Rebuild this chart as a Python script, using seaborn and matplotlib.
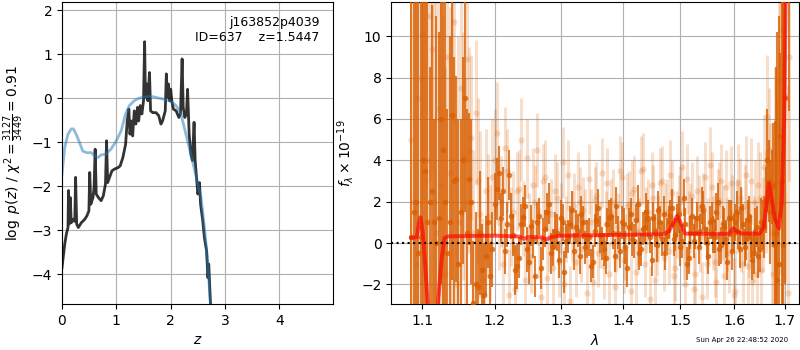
import matplotlib
matplotlib.use('Agg')
import numpy as np
import pandas as pd
import matplotlib.pyplot as plt
import seaborn as sns
from matplotlib.ticker import FixedLocator, NullLocator, FixedFormatter

# ---------------- data: redshift panel ----------------
z_pz = [0.00, 0.05, 0.08, 0.11, 0.12, 0.135, 0.153, 0.17, 0.21, 0.235, 0.25, 0.27, 0.30,
        0.355, 0.42, 0.46, 0.495, 0.51, 0.53, 0.57, 0.59, 0.61, 0.63, 0.67, 0.72, 0.76,
        0.80, 0.82, 0.84, 0.875, 0.92, 0.97, 1.03, 1.07, 1.12, 1.17, 1.20, 1.23, 1.25,
        1.28, 1.30, 1.33, 1.36, 1.39, 1.41, 1.44, 1.47, 1.50, 1.52, 1.535, 1.56, 1.58,
        1.61, 1.63, 1.67, 1.73, 1.78, 1.82, 1.85, 1.90, 1.92, 1.94, 1.96, 1.98, 2.00,
        2.02, 2.05, 2.10, 2.15, 2.18, 2.21, 2.23, 2.26, 2.29, 2.31, 2.34, 2.37, 2.40,
        2.43, 2.45, 2.48, 2.50, 2.53, 2.55, 2.59, 2.62, 2.66, 2.685, 2.70, 2.73, 2.75, 2.80]
logp_pz = [-3.85, -3.32, -3.09, -2.94, -2.10, -2.86, -2.26, -2.83, -2.75, -2.80, -1.80, -2.86, -2.94,
           -2.83, -2.75, -2.67, -2.56, -1.69, -2.41, -2.26, -2.03, -1.16, -2.18, -2.26, -2.33, -2.22,
           -1.95, -0.97, -1.92, -1.80, -1.65, -1.61, -1.58, -1.54, -1.35, -1.05, -0.52, -0.25, -0.82,
           -0.52, -0.86, -0.29, -0.59, -0.21, -0.52, -0.17, -0.36, -0.06, 1.28, 0.02, 0.32, -0.06,
           0.58, -0.29, -0.33, -0.33, -0.40, -0.59, -0.52, -0.29, 0.55, 0.02, 0.32, -0.06, 0.20,
           -0.06, -0.25, -0.29, -0.44, -0.36, 0.89, -0.21, -0.44, -0.36, 0.20, -0.82, -1.27, -1.42,
           -0.55, -1.42, -1.88, -2.18, -1.92, -2.41, -2.79, -3.17, -3.47, -4.08, -3.77, -4.60, -5.06, -5.60]

z_prior = [0.00, 0.05, 0.11, 0.17, 0.21, 0.26, 0.32, 0.38, 0.45, 0.54, 0.60, 0.66, 0.72,
           0.81, 0.90, 1.00, 1.09, 1.17, 1.24, 1.33, 1.42, 1.55, 1.64, 1.73, 1.85, 1.98,
           2.10, 2.19, 2.25, 2.31, 2.37, 2.43, 2.50, 2.56, 2.62, 2.68, 2.73, 2.78]
logp_prior = [-1.73, -1.12, -0.82, -0.70, -0.70, -0.82, -1.00, -1.20, -1.24, -1.24, -1.31, -1.35, -1.29,
              -1.27, -1.16, -0.97, -0.74, -0.36, -0.17, -0.06, 0.00, 0.03, 0.04, 0.015, -0.02, -0.06,
              -0.17, -0.36, -0.67, -0.97, -1.27, -1.58, -1.95, -2.27, -2.94, -3.70, -4.68, -5.30]

# ---------------- data: spectrum panel ----------------
# wavelength grid A (microns)
lam_a = [1.086, 1.092, 1.098, 1.104, 1.110, 1.116, 1.122, 1.128, 1.134, 1.140, 1.146,
         1.152, 1.158, 1.164, 1.170, 1.176, 1.182, 1.188, 1.194, 1.200, 1.206,
         1.212, 1.218, 1.224, 1.230, 1.236, 1.242, 1.248, 1.254, 1.260, 1.266, 1.272,
         1.278, 1.284, 1.290, 1.296, 1.302, 1.308, 1.314, 1.320, 1.326, 1.332, 1.338,
         1.344, 1.350, 1.356, 1.362, 1.368, 1.374, 1.380, 1.386, 1.392, 1.398, 1.404,
         1.410, 1.416, 1.422, 1.428, 1.434, 1.440, 1.446, 1.452, 1.458, 1.464, 1.470,
         1.476, 1.482, 1.488, 1.494, 1.500, 1.506, 1.512, 1.518, 1.524, 1.530, 1.536,
         1.542, 1.548, 1.554, 1.560, 1.566, 1.572, 1.578, 1.584, 1.590, 1.596, 1.602,
         1.608, 1.614, 1.620, 1.626, 1.632, 1.638, 1.644, 1.650, 1.656,
         1.662, 1.668, 1.674, 1.680, 1.684, 1.690, 1.696, 1.708]
# wavelength grid B (microns)
lam_b = [1.089, 1.095, 1.101, 1.107, 1.113, 1.119, 1.125, 1.131, 1.137, 1.143,
         1.149, 1.155, 1.161, 1.167, 1.173, 1.179, 1.185, 1.191, 1.197, 1.203,
         1.209, 1.215, 1.221, 1.227, 1.233, 1.239, 1.245, 1.251, 1.257, 1.263,
         1.269, 1.275, 1.281, 1.287, 1.293, 1.299, 1.305, 1.311, 1.317, 1.323,
         1.329, 1.335, 1.341, 1.347, 1.353, 1.359, 1.365, 1.371, 1.377, 1.383,
         1.389, 1.395, 1.401, 1.407, 1.413, 1.419, 1.425, 1.431, 1.437, 1.443,
         1.449, 1.455, 1.461, 1.467, 1.473, 1.479, 1.485, 1.491, 1.497, 1.503,
         1.509, 1.515, 1.521, 1.527, 1.533, 1.539, 1.545, 1.551, 1.557, 1.563,
         1.569, 1.575, 1.581, 1.587, 1.593, 1.599, 1.605, 1.611, 1.617, 1.623,
         1.629, 1.635, 1.641, 1.647, 1.653, 1.659, 1.665, 1.671, 1.677, 1.683,
         1.689, 1.695, 1.701, 1.707]

# dark (strong) points on grid A
flux_dark_a = [0.3, 2.0, 0.3, 3.5, 2.0, 1.0, 1.2, 4.5, -0.5, 6.2, 3.1,
               1.5, 7.0, 3.1, -2.9, -2.1, -1.3, -0.6, -1.6, 1.9, 3.4,
               2.5, 0.9, 1.3, -1.3, -0.7, 1.25, -0.3, 0.85, -1.6, 1.3, 0.2,
               1.5, -0.5, 0.6, -0.8, 1.0, 0.1, 0.9, -0.4, 0.6, 1.4, -0.2,
               0.3, -0.9, 1.1, 0.4, -0.3, 0.9, 1.3, -0.6, 0.5, 1.0, -0.2,
               0.8, 0.2, 1.1, -0.5, 0.7, 1.5, 0.3, 1.2, -0.1, 1.0, 1.4,
               0.4, 1.3, 0.2, 1.1, -0.2, 2.2, -1.0, 0.5, 0.1, 1.2, 0.6,
               1.6, 0.0, 1.0, 0.4, 1.5, -0.3, 0.9, 0.2, 1.2, -0.4, 1.0,
               0.6, 1.7, -0.2, 1.1, 0.3, -0.5, 0.8, -0.3, 0.9,
               2.1, 3.0, 2.7, -0.1, -1.8, 5.2, -0.1, 15.0]
err_dark_a = [16, 14, 18, 12, 6.5, 5.0, 9, 8.5, 7, 8, 5,
              4.5, 5.5, 3.2, 3.0, 2.8, 2.2, 1.9, 1.6, 1.5, 1.3,
              1.2, 1.1, 1.1, 1.2, 1.0, 1.0, 1.1, 1.0, 1.0, 0.9, 1.0,
              0.9, 1.0, 0.9, 0.9, 0.9, 0.8, 0.9, 0.9, 0.8, 0.9, 0.8,
              0.9, 0.8, 0.8, 0.9, 0.8, 0.8, 0.9, 0.8, 0.8, 0.8, 0.8,
              0.9, 0.8, 0.8, 0.8, 0.8, 0.9, 0.8, 0.8, 0.8, 0.8, 0.9,
              0.8, 0.8, 0.8, 0.8, 0.9, 0.9, 0.8, 0.8, 0.8, 0.8, 0.8,
              0.9, 0.8, 0.8, 0.9, 0.9, 0.8, 0.9, 0.9, 0.9, 0.9, 0.9,
              0.9, 1.0, 0.9, 1.0, 1.0, 1.0, 1.0, 1.1, 1.2,
              1.6, 2.0, 1.8, 6.0, 12.0, 4.0, 14.0, 8.6]

# dark (strong) points on grid B
flux_dark_b = [1.5, -0.5, 4.0, 1.0, 2.5, 0.0, 6.0, 2.0, 1.0, 3.0,
               -1.0, 4.0, 0.5, 2.0, -2.0, 0.5, -2.5, 1.0, -0.3, 2.6,
               1.2, -0.4, 3.3, 0.4, -1.1, 0.9, 1.8, -0.9, 0.2, 1.0,
               -1.2, 0.7, 1.9, -0.2, 0.5, 1.2, -1.4, 0.3, 1.6, 0.8,
               -0.6, 1.0, 0.2, -1.1, 0.6, 1.7, 0.0, -0.7, 1.2, 0.5,
               1.8, -0.4, 0.9, -1.2, 1.4, 0.1, 1.9, -0.3, 0.8, 1.2,
               -0.8, 0.6, 1.6, 0.2, -0.5, 1.0, 1.7, 0.4, 1.4, 0.1,
               0.9, -0.7, 1.3, 0.5, -0.2, 1.8, 0.7, -0.6, 1.1, 0.3,
               2.0, -0.1, 0.8, -0.9, 1.2, 0.5, 1.5, -0.3, 0.9, 0.2,
               1.3, -0.8, 0.6, -0.6, 1.0, 0.8, 4.0, 1.5, 2.8, 0.5,
               -1.0, 3.0, 7.0, 20.0]
err_dark_b = [15, 16, 12, 14, 9, 11, 8, 10, 9, 6,
              7, 5, 6, 4, 3.5, 3, 2.5, 2.2, 1.8, 1.5,
              1.2, 1.1, 1.2, 1.0, 1.1, 1.0, 1.0, 1.1, 0.9, 1.0,
              1.0, 0.9, 1.0, 0.9, 0.9, 0.9, 1.0, 0.8, 0.9, 0.8,
              0.9, 0.8, 0.9, 0.8, 0.8, 0.9, 0.8, 0.8, 0.9, 0.8,
              0.9, 0.8, 0.8, 0.9, 0.8, 0.8, 0.9, 0.8, 0.8, 0.9,
              0.8, 0.8, 0.9, 0.8, 0.8, 0.8, 0.9, 0.8, 0.9, 0.8,
              0.8, 0.8, 0.9, 0.8, 0.8, 0.9, 0.8, 0.9, 0.9, 0.8,
              0.9, 0.9, 0.9, 0.9, 0.9, 0.9, 1.0, 0.9, 1.0, 1.0,
              1.0, 1.0, 1.1, 1.1, 1.2, 1.5, 2.5, 2.5, 3.0, 8.0,
              12.0, 14.0, 9.0, 5.0]

# light (weak) points on grid B
flux_light_b = [2.0, 7.0, 10.1, 4.0, 9.4, 0.5, 2.8, -1.5, 3.4, 10.7,
                1.0, 4.2, 8.9, 5.1, 6.3, 1.4, -2.5, 1.3, 3.2, 5.3,
                2.0, 4.6, -2.5, 1.5, 2.5, 5.0, -1.8, 0.6, 2.8, 4.5,
                -2.6, 3.2, 0.3, -1.2, 2.2, 1.2, -2.0, 3.3, 0.8, -0.9,
                2.0, 1.6, -2.4, 1.0, 2.1, -0.5, 3.4, 0.9, -1.5, 2.0,
                0.2, 3.5, -0.8, 1.8, -2.3, 2.6, 0.5, 3.5, -1.0, 1.5,
                2.8, -1.8, 0.7, 3.0, 1.3, -0.4, 2.4, -1.2, 1.6, 3.7,
                -2.0, 0.9, 2.3, -1.5, 1.7, -2.6, 3.2, 0.6, 2.7, -0.9,
                1.9, 3.0, -1.6, 0.4, 2.9, -2.5, 1.3, 2.2, -1.0, 3.3,
                0.2, -1.9, 2.0, 2.8, -1.3, 3.7, 6.1, 2.8, -1.5, 3.0,
                7.8, 10.3, 7.1, -2.4]
err_light_b = [18, 12, 8, 15, 6, 14, 9, 10, 8, 5,
               9, 6, 5, 4, 3.5, 4, 3, 3, 2.8, 2.5,
               2.2, 2.0, 2.2, 2.0, 1.9, 2.0, 1.9, 1.8, 1.8, 1.8,
               1.9, 1.8, 1.7, 1.8, 1.7, 1.7, 1.8, 1.7, 1.7, 1.7,
               1.7, 1.6, 1.7, 1.6, 1.6, 1.6, 1.7, 1.6, 1.6, 1.6,
               1.6, 1.7, 1.6, 1.6, 1.7, 1.6, 1.6, 1.7, 1.6, 1.6,
               1.6, 1.6, 1.6, 1.7, 1.6, 1.6, 1.6, 1.6, 1.7, 1.7,
               1.7, 1.6, 1.6, 1.7, 1.6, 1.7, 1.7, 1.6, 1.7, 1.7,
               1.7, 1.8, 1.8, 1.8, 1.8, 1.8, 1.8, 1.9, 1.9, 1.9,
               1.9, 2.0, 2.0, 2.1, 2.2, 2.5, 3.0, 3.0, 4.0, 5.0,
               6.0, 8.0, 9.0, 10.0]

# light (weak) points on grid A
flux_light_a = [5.0, -1.0, 8.0, 3.0, 11.0, 2.0, 6.5, 0.0, 9.0, 4.0, -2.0,
                7.5, 2.0, 4.5, 0.5, 3.0, -1.8, 2.5, 0.0, 4.0, 1.0,
                -1.0, 3.5, 0.8, -2.2, 2.6, 1.2, 4.1, -0.6, 2.0, 0.0,
                3.0, -1.7, 1.4, 2.5, -0.9, 3.9, 0.7, -2.8, 1.8, 2.7,
                -0.3, 1.0, 3.1, -1.9, 2.3, 0.4, -1.1, 2.9, 1.5, -2.1,
                0.8, 3.2, -0.2, 1.9, 2.4, -1.4, 0.6, 3.6, 1.1, -2.7,
                2.2, 0.0, 2.9, -0.7, 1.5, 3.3, -1.6, 0.9, 2.0, -0.1,
                3.1, 1.2, -2.2, 2.5, 0.3, 1.7, -1.0, 3.8, 0.5, -1.9,
                2.1, 1.0, 2.7, -0.5, 1.4, -2.3, 2.9, 0.6, 1.8, -1.1,
                3.0, 0.2, -1.5, 2.2, 0.9,
                2.0, 4.5, 0.5, 3.5, -1.0, 5.5, 2.0, 9.0]
err_light_a = [18, 16, 10, 14, 8, 12, 9, 11, 7, 9, 8,
               6, 6, 5, 4, 4, 3, 3, 2.8, 2.5, 2.3,
               2.1, 2.0, 1.9, 2.0, 1.9, 1.8, 1.9, 1.8, 1.8, 1.7,
               1.8, 1.7, 1.7, 1.8, 1.7, 1.7, 1.6, 1.7, 1.6, 1.7,
               1.6, 1.6, 1.7, 1.6, 1.6, 1.6, 1.6, 1.7, 1.6, 1.6,
               1.6, 1.7, 1.6, 1.6, 1.6, 1.6, 1.6, 1.7, 1.6, 1.6,
               1.6, 1.6, 1.7, 1.6, 1.6, 1.7, 1.6, 1.6, 1.7, 1.7,
               1.7, 1.7, 1.7, 1.7, 1.7, 1.7, 1.7, 1.8, 1.8, 1.8,
               1.8, 1.8, 1.8, 1.9, 1.9, 1.9, 1.9, 2.0, 2.0, 2.0,
               2.1, 2.1, 2.2, 2.2, 2.3,
               2.5, 3.0, 3.5, 5.0, 8.0, 7.0, 10.0, 6.0]

lam_model = [1.086, 1.093, 1.096, 1.098, 1.101, 1.104, 1.108, 1.114, 1.118, 1.121,
             1.126, 1.130, 1.135, 1.200, 1.236, 1.243, 1.250, 1.270, 1.277, 1.285,
             1.300, 1.400, 1.470, 1.480, 1.488, 1.494, 1.500, 1.508, 1.550, 1.590,
             1.598, 1.605, 1.615, 1.650, 1.658, 1.663, 1.668, 1.673, 1.680, 1.688,
             1.694, 1.699, 1.703]
flux_model = [0.26, 0.28, 1.00, 1.25, 0.50, -1.00, -3.20, -5.00, -4.50, -3.00,
              -0.80, 0.25, 0.33, 0.36, 0.32, 0.20, 0.30, 0.28, 0.17, 0.30,
              0.36, 0.40, 0.43, 0.60, 1.00, 1.32, 1.00, 0.46, 0.45, 0.45,
              0.72, 0.55, 0.46, 0.46, 0.80, 1.80, 2.90, 2.20, 1.20, 0.70,
              2.00, 6.00, 14.0]

xticks_spec = [1.1, 1.2, 1.3, 1.4, 1.5, 1.6, 1.7]
xticklabels_spec = ['1.1', '1.2', '1.3', '1.4', '1.5', '1.6', '1.7']

root_name = 'j163852p4039'
obj_id = 637
z_best = 1.5447
chi2_num, chi2_den, chi2_red = 3127, 3449, 0.91
timestamp = 'Sun Apr 26 22:48:52 2020'

# ---------------- figure ----------------
plt.rcParams['font.family'] = ['DejaVu Sans']
orange = '#d95f02'

fig = plt.figure(figsize=(8, 3.5), dpi=100)
ax1 = fig.add_axes([0.0775, 0.131, 0.339, 0.863])
ax2 = fig.add_axes([0.489, 0.131, 0.5095, 0.863])

pz_df = pd.DataFrame({'z': z_pz, 'logp': logp_pz})
prior_df = pd.DataFrame({'z': z_prior, 'logp': logp_prior})
sns.lineplot(data=pz_df, x='z', y='logp', ax=ax1, color='k', alpha=0.8, lw=2,
             sort=False, estimator=None)
sns.lineplot(data=prior_df, x='z', y='logp', ax=ax1, color='#1f77b4', alpha=0.5, lw=2,
             sort=False, estimator=None)
ax1.set_xlim(0, 4.99)
ax1.set_ylim(-4.68, 2.18)
ax1.set_xticks([0, 1, 2, 3, 4])
ax1.set_yticks([-4, -3, -2, -1, 0, 1, 2])
ax1.grid(True)
ax1.set_xlabel('$z$')
ax1.set_ylabel(r'$\log\ p(z)$' + ' / ' +
               r'$\chi^2=\frac{%d}{%d}=%.2f$' % (chi2_num, chi2_den, chi2_red))
ax1.text(0.95, 0.955, '%s\nID=%d    z=%.4f' % (root_name, obj_id, z_best),
         ha='right', va='top', transform=ax1.transAxes, fontsize=9)

# spectrum
for lam, fl, er in [(lam_b, flux_light_b, err_light_b), (lam_a, flux_light_a, err_light_a)]:
    ax2.errorbar(lam, fl, yerr=er, fmt='o', color=orange, alpha=0.2,
                 ms=4.5, elinewidth=2.2, mec='none', zorder=2)
for lam, fl, er in [(lam_a, flux_dark_a, err_dark_a), (lam_b, flux_dark_b, err_dark_b)]:
    ax2.errorbar(lam, fl, yerr=er, fmt='o', color=orange, alpha=0.8,
                 ms=4, elinewidth=1.5, mec='none', zorder=3)
model_df = pd.DataFrame({'lam': lam_model, 'flux': flux_model})
sns.lineplot(data=model_df, x='lam', y='flux', ax=ax2, color='r', alpha=0.65, lw=2.8,
             sort=False, estimator=None, zorder=4)
ax2.axhline(0, color='k', linestyle=':', lw=1.5, zorder=5)
ax2.set_xscale('log')
ax2.set_xlim(1.06, 1.729)
ax2.set_ylim(-2.95, 11.65)
ax2.xaxis.set_major_locator(FixedLocator(xticks_spec))
ax2.xaxis.set_major_formatter(FixedFormatter(xticklabels_spec))
ax2.xaxis.set_minor_locator(NullLocator())
ax2.set_yticks([-2, 0, 2, 4, 6, 8, 10])
ax2.grid(True)
ax2.set_xlabel(r'$\lambda$')
ax2.set_ylabel(r'$f_\lambda \times 10^{-19}$')

fig.text(0.985, 0.02, timestamp, ha='right', va='bottom', fontsize=5)

fig.savefig('out.png', dpi=100)
